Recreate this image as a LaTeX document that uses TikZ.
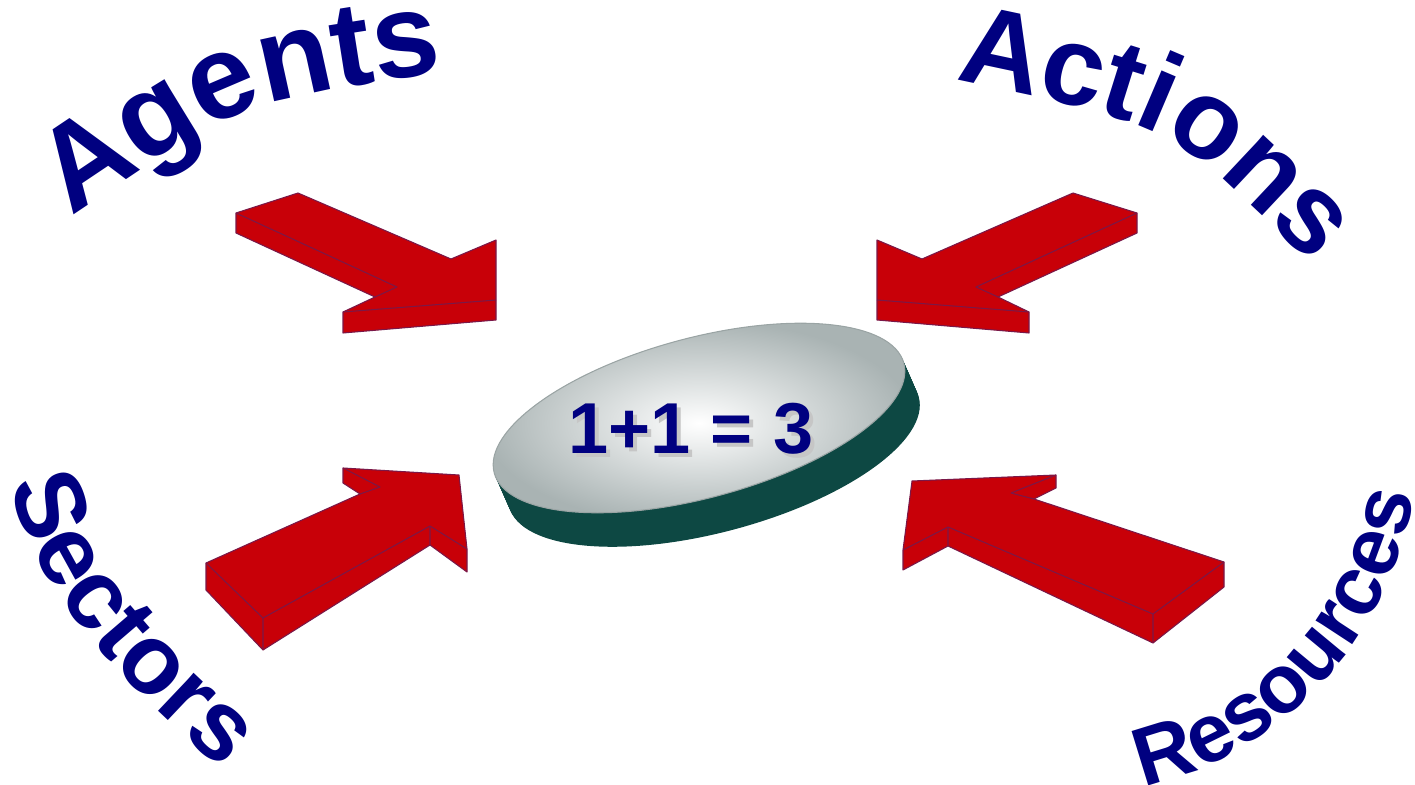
\documentclass[tikz,border=0pt]{standalone}
\usepackage{fontspec}
\setmainfont{Liberation Sans}
\usetikzlibrary{decorations.text}
\definecolor{wordBlue}{HTML}{000080}
\definecolor{arrowRed}{HTML}{C80008}
\definecolor{arrowEdge}{HTML}{7A1848}
\definecolor{discSide}{HTML}{0D4843}
\definecolor{discRim}{HTML}{9AA4A4}
\definecolor{discShade}{HTML}{A9B3B3}

\begin{document}
\begin{tikzpicture}[
    x=0.01cm,y=-0.01cm,
    arrowbody/.style={fill=arrowRed,draw=arrowEdge,line width=0.3pt,line join=round},
    arrowfold/.style={draw=arrowEdge,line width=0.3pt,line join=round},
    word/.style={decorate,decoration={text along path,text align=center}},
    sum/.style={font=\fontsize{20.5}{20.5}\selectfont\bfseries,inner sep=0pt,anchor=base}
]
\useasboundingbox (0,0) rectangle (1415,785);

\foreach \k in {1,...,34}
  \fill[discSide,rotate around={15:(699+0.44*\k,418+\k)}] (699+0.44*\k,418+\k) ellipse [x radius=212,y radius=80];
\shade[inner color=white,outer color=discShade,draw=discRim,line width=0.3pt,rotate around={15:(699,418)}] (699,418) ellipse [x radius=212,y radius=80];
\node[sum,text=gray!45] (totalshade) at (695,457) {1+1 = 3};
\node[sum,text=wordBlue] (total) at (691,453) {1+1 = 3};

\draw[arrowbody] (236,213) -- (298,193) -- (451,259) -- (496,240) -- (496,320) -- (343,333) -- (343,312) -- (375,297) -- (236,233) -- cycle;
\draw[arrowfold] (236,213) -- (397,287) -- (375,297) (343,312) -- (496,300);

\draw[arrowbody] (1073,193) -- (1137,213) -- (1137,233) -- (998,297) -- (1029,312) -- (1029,333) -- (877,320) -- (877,240) -- (922,259) -- cycle;
\draw[arrowfold] (1137,213) -- (976,287) -- (998,297) (877,300) -- (1029,312);

\draw[arrowbody] (206,563) -- (360,494) -- (343,483) -- (343,468) -- (459,475) -- (467,549) -- (467,572) -- (430,545) -- (263,650) -- (206,590) -- cycle;
\draw[arrowfold] (206,563) -- (263,618) -- (430,526) -- (467,549) (263,618) -- (263,650) (430,526) -- (430,545) (343,468) -- (380,487) -- (360,494);

\draw[arrowbody] (912,481) -- (1056,475) -- (1056,488) -- (1034,499) -- (1224,562) -- (1224,587) -- (1153,643) -- (948,546) -- (903,570) -- (903,550) -- cycle;
\draw[arrowfold] (903,550) -- (948,527) -- (1153,614) -- (1224,562) (948,527) -- (948,546) (1153,614) -- (1153,643) (1056,475) -- (1011,493) -- (1034,499);

\path[word,decoration={text={|\color{wordBlue}\fontsize{34}{34}\selectfont\bfseries|Agents}}]
  (40,237) -- (73,215) .. controls (242,101) .. (440,73) -- (480,67);
\path[word,decoration={text={|\color{wordBlue}\fontsize{32}{32}\selectfont\bfseries|Actions}}]
  (926,74) -- (965,82) .. controls (1173,126) .. (1305,258) -- (1333,286);
\path[word,decoration={text={|\color{wordBlue}\fontsize{28}{28}\selectfont\bfseries|Sectors}}]
  (2,443) -- (10,482) .. controls (36,602) and (132,689) .. (223,771) -- (253,798);
\path[word,decoration={text={|\color{wordBlue}\fontsize{23.5}{23.5}\selectfont\bfseries|Resources}}]
  (1104,794) -- (1143,786) .. controls (1285,756) and (1389,637) .. (1414,494) -- (1421,455);
\end{tikzpicture}
\end{document}
